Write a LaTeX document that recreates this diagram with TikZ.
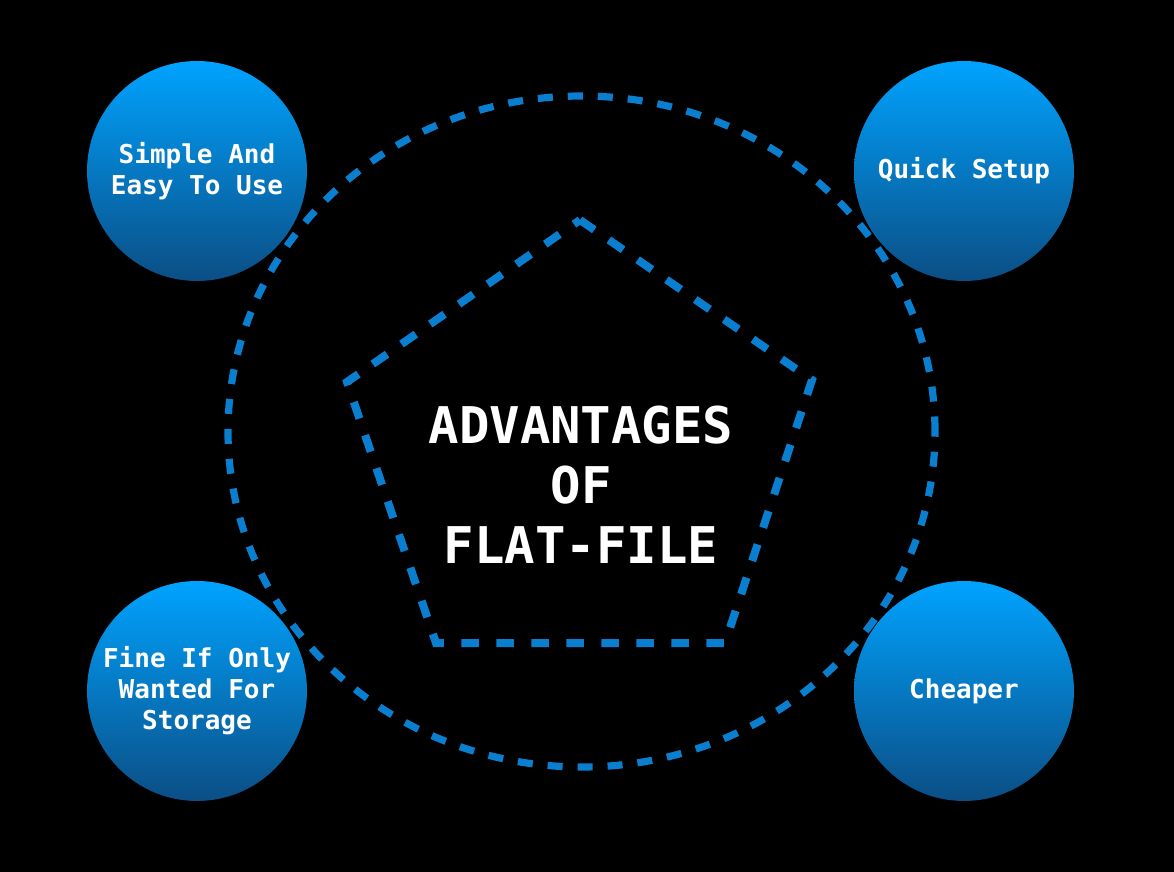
\documentclass[tikz,border=0pt]{standalone}
\usepackage{fontspec}
\setmonofont{DejaVu Sans Mono}
\usetikzlibrary{shapes.geometric}
\definecolor{dashblue}{HTML}{0A7FCF}
\definecolor{topblue}{HTML}{00A3FF}
\definecolor{deepblue}{HTML}{0B4E85}

\begin{document}
\begin{tikzpicture}[x=0.5pt,y=-0.5pt,
 bubble/.style={circle,minimum size=220*0.5pt,inner sep=0pt,top color=topblue,bottom color=deepblue,text=white,align=center,font=\ttfamily\bfseries\fontsize{13}{15.5}\selectfont},
 dashline/.style={draw=dashblue,line width=3.6pt,dash pattern=on 7.5pt off 7.5pt},
 pentline/.style={draw=dashblue,line width=4pt,dash pattern=on 8.7pt off 8.8pt}]
\fill[black] (0,0) rectangle (1174,872);
\useasboundingbox (0,0) rectangle (1174,872);
\draw[dashline] (581.5,431.5) ellipse [x radius=353.5*0.5pt,y radius=335.5*0.5pt];
\coordinate (p1) at (580,220);
\coordinate (p2) at (812,380);
\coordinate (p3) at (725,643);
\coordinate (p4) at (436,643);
\coordinate (p5) at (347,382);
\draw[pentline] (p1) -- (p2) -- (p3) -- (p4) -- (p5) -- cycle;
\node[text=white,align=center,font=\ttfamily\bfseries\fontsize{25.3}{30}\selectfont] (title) at (581,485) {ADVANTAGES\\OF\\FLAT-FILE};
\node[bubble] (simple) at (197,171) {Simple And\\Easy To Use};
\node[bubble] (setup) at (964,171) {Quick Setup};
\node[bubble] (storage) at (197,691) {Fine If Only\\Wanted For\\Storage};
\node[bubble] (cheap) at (964,691) {Cheaper};
\end{tikzpicture}
\end{document}
